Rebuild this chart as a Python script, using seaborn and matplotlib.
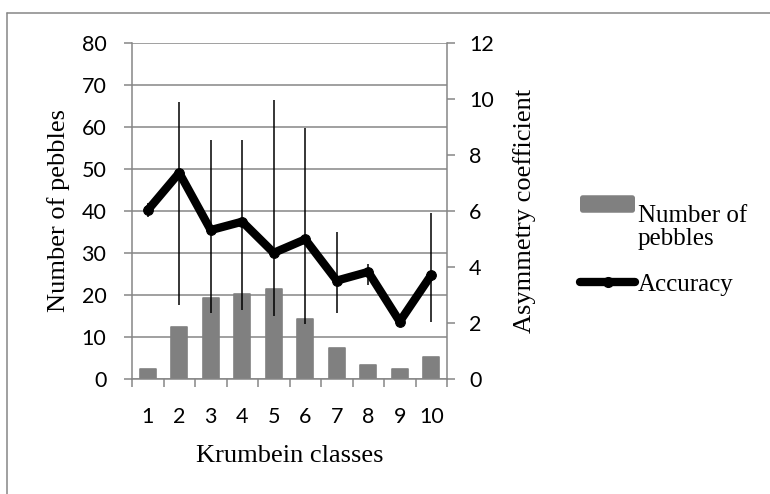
"""
plot.py
Krumbein classes: number of pebbles (bars, left axis) and asymmetry
coefficient ("Accuracy", thick line with min/max error bars, right axis).
"""

import numpy as np
import pandas as pd
import matplotlib.pyplot as plt
import seaborn as sns
from matplotlib.lines import Line2D
from matplotlib.patches import Patch, FancyBboxPatch
from matplotlib.legend_handler import HandlerPatch
from matplotlib.font_manager import FontProperties

# Values
CLASSES = ["1", "2", "3", "4", "5", "6", "7", "8", "9", "10"]
PEBBLES = [2.4, 12.4, 19.4, 20.4, 21.4, 14.4, 7.4, 3.4, 2.4, 5.4]
ACCURACY = [6.03, 7.36, 5.32, 5.62, 4.51, 4.99, 3.52, 3.83, 2.06, 3.72]
ACC_LOW = [5.80, 2.66, 2.35, 2.47, 2.26, 1.97, 2.38, 3.35, 2.06, 2.06]
ACC_HIGH = [6.29, 9.88, 8.53, 8.53, 9.95, 8.97, 5.25, 4.11, 2.06, 5.94]

LEFT_TICKS = [0, 10, 20, 30, 40, 50, 60, 70, 80]
RIGHT_TICKS = [0, 2, 4, 6, 8, 10, 12]

GREY = "#868686"
BAR_GREY = "#808080"
SERIF = "Liberation Serif"
W, H = 770, 494


def raised_patch(legend, orig_handle, xdescent, ydescent, width, height, fontsize):
    """Legend swatch aligned with the first text line (Excel style)."""
    return FancyBboxPatch((-xdescent, -ydescent + 0.35 * fontsize), width, height,
                          boxstyle="round,pad=0,rounding_size=2")


def main():
    sns.set_style("white")
    plt.rcParams["font.family"] = ["Lato", "DejaVu Sans"]
    plt.rcParams.update({"text.color": "black", "axes.labelcolor": "black",
                         "xtick.color": "black", "ytick.color": "black"})

    fig = plt.figure(figsize=(W / 100, H / 100), dpi=100)
    ax = fig.add_axes([132 / W, 1 - 379.4 / H, (447 - 132) / W, (379.4 - 42.6) / H])

    # Bars: number of pebbles
    df = pd.DataFrame({"cls": CLASSES, "pebbles": PEBBLES})
    sns.barplot(data=df, x="cls", y="pebbles", color=BAR_GREY, saturation=1,
                width=0.5, ax=ax, zorder=2)
    for p in ax.patches:
        p.set_edgecolor(BAR_GREY)
        p.set_linewidth(1.2)
        p.set_joinstyle("round")

    # Line + error bars on the secondary axis
    ax2 = ax.twinx()
    acc = np.array(ACCURACY)
    pos = np.arange(len(CLASSES))
    ax2.errorbar(pos, acc, yerr=[acc - np.array(ACC_LOW), np.array(ACC_HIGH) - acc],
                 fmt="none", ecolor="black", elinewidth=1.1, capsize=0, zorder=2)
    sns.lineplot(x=pos, y=acc, ax=ax2, color="black", lw=6, marker="o",
                 markersize=7, markeredgecolor="black", errorbar=None,
                 solid_capstyle="round", solid_joinstyle="round", zorder=3)

    # Axes limits / ticks
    ax.set_xlim(-0.5, len(CLASSES) - 0.5)
    ax.set_ylim(0, 80)
    ax.set_yticks(LEFT_TICKS)
    ax2.set_ylim(0, 12)
    ax2.set_yticks(RIGHT_TICKS)
    ax.set_xticks(np.arange(-0.5, len(CLASSES)), minor=True)

    ax.tick_params(axis="y", left=True, length=6, width=1.1, color=GREY,
                   labelcolor="black", pad=12.5, labelsize=15.5)
    ax.tick_params(axis="x", which="major", length=0, pad=20, labelsize=15.5,
                   labelcolor="black")
    ax.tick_params(axis="x", which="minor", bottom=True, length=6, width=1.1,
                   color=GREY)
    ax2.tick_params(axis="y", right=True, length=6, width=1.1, color=GREY,
                    labelcolor="black", pad=10, labelsize=15.5)

    ax.yaxis.grid(True, color=GREY, lw=1.1)
    ax.xaxis.grid(False)
    ax2.grid(False)
    ax.set_axisbelow(True)

    for name, sp in ax.spines.items():
        sp.set_visible(name in ("left", "bottom"))
        sp.set_color(GREY)
        sp.set_linewidth(1.1)
    for name, sp in ax2.spines.items():
        sp.set_visible(name == "right")
        sp.set_color(GREY)
        sp.set_linewidth(1.1)

    label_font = FontProperties(family=SERIF, size=19)
    ax.set_xlabel("Krumbein classes", fontproperties=label_font, labelpad=13)
    ax.set_ylabel("Number of pebbles", fontproperties=label_font, labelpad=8)
    ax2.set_ylabel("Asymmetry coefficient", fontproperties=label_font, labelpad=14)

    # Legend (outside, to the right)
    bar_handle = Patch(facecolor=BAR_GREY, edgecolor="none")
    blank = Patch(facecolor="none", edgecolor="none")
    line_handle = Line2D([], [], color="black", lw=6, marker="o", markersize=7,
                         solid_capstyle="round")
    fig.legend([bar_handle, blank, blank, line_handle],
               ["Number of", "pebbles", "", "Accuracy"],
               handler_map={bar_handle: HandlerPatch(patch_func=raised_patch)},
               loc="upper left", bbox_to_anchor=(580 / W, 1 - 204 / H),
               frameon=False, borderpad=0, borderaxespad=0,
               handlelength=2.2, handleheight=0.7, handletextpad=0.12,
               labelspacing=0.02, prop=FontProperties(family=SERIF, size=18))

    # Chart-area border (only top and left edges fall inside the image)
    fig.add_artist(Line2D([7.4 / W, 1], [1 - 13.3 / H, 1 - 13.3 / H],
                          transform=fig.transFigure, color=GREY, lw=1.1))
    fig.add_artist(Line2D([7.4 / W, 7.4 / W], [0, 1 - 13.3 / H],
                          transform=fig.transFigure, color=GREY, lw=1.1))

    fig.savefig("out.png", dpi=100)
    plt.close(fig)


if __name__ == "__main__":
    main()
